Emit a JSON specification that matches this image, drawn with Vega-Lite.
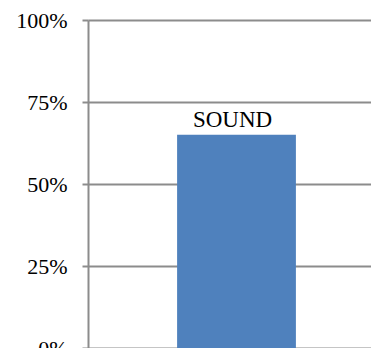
{
  "$schema": "https://vega.github.io/schema/vega-lite/v6.json",
  "autosize": {"type": "none"},
  "padding": {"left": 88, "top": 20, "right": 0, "bottom": 0},
  "width": 297,
  "height": 328,
  "background": "white",
  "config": {
    "view": {"stroke": null},
    "font": "Liberation Serif"
  },
  "data": {"values": [{"category": "SOUND", "share": 0.65}]},
  "encoding": {
    "x": {"field": "category", "type": "nominal", "axis": null,
          "scale": {"paddingInner": 0, "paddingOuter": 0.75}},
    "y": {"field": "share", "type": "quantitative",
          "scale": {"domain": [0, 1]},
          "axis": {"format": "%", "values": [0, 0.25, 0.5, 0.75, 1], "title": null,
                   "grid": true, "gridColor": "#8c8c8c", "gridWidth": 2,
                   "domainColor": "#8c8c8c", "domainWidth": 2,
                   "tickColor": "#8c8c8c", "tickWidth": 2, "tickSize": 6,
                   "labelFont": "Liberation Serif", "labelFontSize": 22,
                   "labelColor": "#000000", "labelPadding": 15}}
  },
  "layer": [
    {"mark": {"type": "bar", "color": "#4F81BD"}},
    {"mark": {"type": "text", "baseline": "alphabetic", "dy": -8, "dx": -4, "fontSize": 23,
              "font": "Liberation Serif", "color": "#000000"},
     "encoding": {"text": {"field": "category"}}}
  ]
}
